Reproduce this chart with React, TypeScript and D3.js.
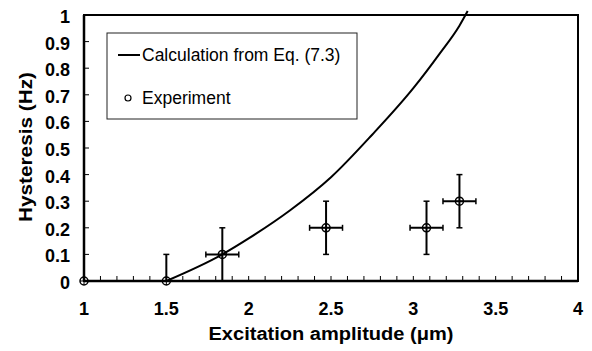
import React from 'react';
import * as d3 from 'd3';

// Eq. (7.3) calculation
const calcX = [1.5, 1.84, 2.0, 2.25, 2.5, 2.75, 3.0, 3.16, 3.28, 3.33];
const calcY = [0, 0.1, 0.16, 0.265, 0.39, 0.55, 0.725, 0.855, 0.96, 1.015];

// experiment points with error bars
const expX = [1, 1.5, 1.84, 2.47, 3.08, 3.28];
const expY = [0, 0, 0.1, 0.2, 0.2, 0.3];
const expXErr = [0, 0, 0.1, 0.1, 0.1, 0.1];
const expYLo = [0, 0, 0.1, 0.1, 0.1, 0.1];
const expYHi = [0, 0.1, 0.1, 0.1, 0.1, 0.1];

const xTickLabels = [1, 1.5, 2, 2.5, 3, 3.5, 4];
const yTickLabels = [0, 0.1, 0.2, 0.3, 0.4, 0.5, 0.6, 0.7, 0.8, 0.9, 1];

const App = () => {
    const width = 592;
    const height = 351;
    const margin = { top: 15, right: 14, bottom: 70, left: 84 };
    const font = 'Liberation Sans, Arial, Helvetica, sans-serif';

    const x = d3.scaleLinear().domain([1, 4]).range([margin.left, width - margin.right]);
    const y = d3.scaleLinear().domain([0, 1]).range([height - margin.bottom, margin.top]);

    const line = d3.line<number>()
        .x((d, i) => x(calcX[i]))
        .y(d => y(d))
        .curve(d3.curveMonotoneX);

    const minorX = d3.range(10, 41).map(v => v / 10);
    const minorY = d3.range(1, 10).map(v => v / 10);
    const cap = 3;

    return (
        <svg width={width} height={height} viewBox={`0 0 ${width} ${height}`}
            style={{ position: 'absolute', left: 0, top: 0, background: '#fff' }}>
            {/* ticks, inward */}
            {minorX.map((v, i) => (
                <line key={`xt-${i}`} x1={x(v)} x2={x(v)} y1={y(0)} y2={y(0) - 5} stroke="#000" strokeWidth={1} />
            ))}
            {minorY.map((v, i) => (
                <line key={`yt-${i}`} x1={x(1)} x2={x(1) + 5} y1={y(v)} y2={y(v)} stroke="#000" strokeWidth={1} />
            ))}

            {/* frame */}
            <rect x={x(1)} y={y(1)} width={x(4) - x(1)} height={y(0) - y(1)} fill="none" stroke="#000" strokeWidth={2} />
            <line x1={x(1)} x2={x(4)} y1={y(0)} y2={y(0)} stroke="#000" strokeWidth={2.5} />
            <line x1={x(1)} x2={x(1)} y1={y(0)} y2={y(1)} stroke="#000" strokeWidth={2.5} />

            {/* tick labels */}
            {xTickLabels.map((v, i) => (
                <text key={`xl-${i}`} x={x(v)} y={315} textAnchor="middle" fontFamily={font}
                    fontWeight="bold" fontSize={18}>{v}</text>
            ))}
            {yTickLabels.map((v, i) => (
                <text key={`yl-${i}`} x={70} y={y(v) + 8} textAnchor="end" fontFamily={font}
                    fontWeight="bold" fontSize={18}>{v}</text>
            ))}

            {/* axis titles */}
            <text x={331} y={340} textAnchor="middle" fontFamily={font} fontWeight="bold" fontSize={18}
                textLength={245} lengthAdjust="spacingAndGlyphs">Excitation amplitude (μm)</text>
            <text transform="translate(32,147) rotate(-90)" textAnchor="middle" fontFamily={font}
                fontWeight="bold" fontSize={18} textLength={150} lengthAdjust="spacingAndGlyphs">Hysteresis (Hz)</text>

            {/* calculation curve */}
            <path d={line(calcY) || ''} fill="none" stroke="#000" strokeWidth={2} />

            {/* experiment */}
            {expX.map((v, i) => {
                const cx = x(v);
                const cy = y(expY[i]);
                const x0 = x(v - expXErr[i]);
                const x1 = x(v + expXErr[i]);
                const y0 = y(expY[i] - expYLo[i]);
                const y1 = y(expY[i] + expYHi[i]);
                return (
                    <g key={`pt-${i}`} stroke="#000" strokeWidth={1.5} fill="none">
                        {expXErr[i] > 0 && (
                            <>
                                <line x1={x0} x2={x1} y1={cy} y2={cy} strokeWidth={2} />
                                <line x1={x0} x2={x0} y1={cy - cap} y2={cy + cap} />
                                <line x1={x1} x2={x1} y1={cy - cap} y2={cy + cap} />
                            </>
                        )}
                        {(expYLo[i] > 0 || expYHi[i] > 0) && (
                            <>
                                <line x1={cx} x2={cx} y1={y0} y2={y1} strokeWidth={2} />
                                <line x1={cx - cap} x2={cx + cap} y1={y1} y2={y1} />
                                {expYLo[i] > 0 && <line x1={cx - cap} x2={cx + cap} y1={y0} y2={y0} />}
                            </>
                        )}
                        <circle cx={cx} cy={cy} r={4} />
                        <line x1={cx - 4} x2={cx + 4} y1={cy} y2={cy} strokeWidth={1} />
                        <line x1={cx} x2={cx} y1={cy - 4} y2={cy + 4} strokeWidth={1} />
                    </g>
                );
            })}

            {/* legend */}
            <rect x={107} y={33} width={250} height={86} fill="#fff" stroke="#222" strokeWidth={1} />
            <line x1={118} x2={140} y1={55} y2={55} stroke="#000" strokeWidth={2} />
            <text x={142} y={61} fontFamily={font} fontSize={17.5}>Calculation from Eq. (7.3)</text>
            <circle cx={128} cy={98} r={3} fill="none" stroke="#000" strokeWidth={1.2} />
            <text x={142} y={104} fontFamily={font} fontSize={17.5}>Experiment</text>
        </svg>
    );
};

export default App;
